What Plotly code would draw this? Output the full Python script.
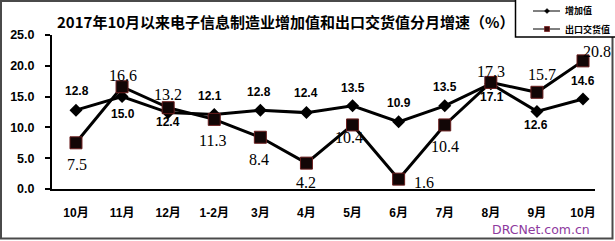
import plotly.graph_objects as go

# ---------------- data ----------------
months = ["10月", "11月", "12月", "1-2月", "3月", "4月", "5月", "6月", "7月", "8月", "9月", "10月"]
added_value = [12.8, 15.0, 12.4, 12.1, 12.8, 12.4, 13.5, 10.9, 13.5, 17.1, 12.6, 14.6]
export_value = [7.5, 16.6, 13.2, 11.3, 8.4, 4.2, 10.4, 1.6, 10.4, 17.3, 15.7, 20.8]
y_ticks = [0, 5, 10, 15, 20, 25]
series_names = ["增加值", "出口交货值"]
title_text = "2017年10月以来电子信息制造业增加值和出口交货值分月增速（%）"
watermark = "DRCNet.com.cn"

# ---------------- label offsets (pixels, style) ----------------
added_dx = [1, 1, 0, -4, -1, 0, 0, 0, 0, 1, -1, 0]
added_dy = [-19, 17, 9, -18, -18, -20, -18, -19, -19, 13, 14, -18]
export_dx = [1, 1, 0, -2, -1, 0, -4, 25, 0, 0, 5, 14]
export_dy = [22, -11, -13, 21, 22, 19, 13, 3, 22, -11, -18, -9]

W, H = 615, 241
L, R, T, B = 52, 595, 35, 189  # plot area in pixels


def px(xp):
    return (xp - L) / (R - L)


def py(yp):
    return (B - yp) / (B - T)


xs = list(range(len(months)))
SANS = "Liberation Sans, Noto Sans CJK SC, sans-serif"
CJK = "Noto Sans CJK SC, Liberation Sans, sans-serif"
SERIF = "Liberation Serif, DejaVu Serif, serif"

fig = go.Figure()
fig.add_trace(go.Scatter(
    x=xs, y=added_value, mode="lines+markers", name=series_names[0],
    line=dict(color="#000000", width=3),
    marker=dict(symbol="diamond", size=10, color="#000000"),
    showlegend=False, cliponaxis=False,
))
fig.add_trace(go.Scatter(
    x=xs, y=export_value, mode="lines+markers", name=series_names[1],
    line=dict(color="#000000", width=3),
    marker=dict(symbol="square", size=12, color="#120606",
                line=dict(color="#6a1e1e", width=1)),
    showlegend=False, cliponaxis=False,
))

annotations = []
for i, v in enumerate(added_value):
    annotations.append(dict(
        x=xs[i], y=v, xref="x", yref="y", text=f"{v:.1f}", showarrow=False,
        xshift=added_dx[i], yshift=-added_dy[i],
        font=dict(family=SANS, size=12, color="#000000", weight="bold"),
    ))
for i, v in enumerate(export_value):
    annotations.append(dict(
        x=xs[i], y=v, xref="x", yref="y", text=f"{v:.1f}", showarrow=False,
        xshift=export_dx[i], yshift=-export_dy[i],
        font=dict(family=SERIF, size=16, color="#000000"),
    ))

# title
annotations.append(dict(
    x=px(55), y=py(21), xref="paper", yref="paper", text=title_text,
    showarrow=False, xanchor="left", yanchor="middle",
    font=dict(family=CJK, size=15, color="#000000", weight="bold"),
))
# watermark
annotations.append(dict(
    x=px(541), y=py(229), xref="paper", yref="paper", text=watermark,
    showarrow=False, xanchor="center", yanchor="middle",
    font=dict(family="DejaVu Sans, sans-serif", size=12.5, color="#8e3a9e"),
))
# legend texts
annotations.append(dict(
    x=px(563), y=py(11), xref="paper", yref="paper", text=series_names[0],
    showarrow=False, xanchor="left", yanchor="middle",
    font=dict(family=CJK, size=9, color="#000000", weight="bold"),
))
annotations.append(dict(
    x=px(563), y=py(29), xref="paper", yref="paper", text=series_names[1],
    showarrow=False, xanchor="left", yanchor="middle",
    font=dict(family=CJK, size=9, color="#000000", weight="bold"),
))

shapes = []
# outer image border
shapes.append(dict(type="rect", xref="paper", yref="paper",
                   x0=px(1), x1=px(612.5), y0=py(238.5), y1=py(1),
                   line=dict(color="#4a4a4a", width=2), layer="above"))
# legend box
shapes.append(dict(type="rect", xref="paper", yref="paper",
                   x0=px(515.5), x1=px(616), y0=py(37), y1=py(-2),
                   line=dict(color="#000000", width=1.5), fillcolor="#ffffff", layer="above"))
# legend lines
for yy in (11, 29):
    shapes.append(dict(type="line", xref="paper", yref="paper",
                       x0=px(533), x1=px(560), y0=py(yy), y1=py(yy),
                       line=dict(color="#000000", width=1), layer="above"))
# legend diamond
cx, cy, r = 547, 11, 2.5
shapes.append(dict(type="path", xref="paper", yref="paper",
                   path=f"M {px(cx - r)} {py(cy)} L {px(cx)} {py(cy - r)} L {px(cx + r)} {py(cy)} L {px(cx)} {py(cy + r)} Z",
                   fillcolor="#000000", line=dict(color="#000000", width=0.5), layer="above"))
# legend square
cx, cy, r = 547, 29, 2.5
shapes.append(dict(type="rect", xref="paper", yref="paper",
                   x0=px(cx - r), x1=px(cx + r), y0=py(cy + r), y1=py(cy - r),
                   fillcolor="#3a0a0a", line=dict(color="#7a2222", width=0.8), layer="above"))

fig.update_layout(
    width=W, height=H, autosize=False,
    margin=dict(l=L, r=W - R, t=T, b=H - B, pad=0),
    paper_bgcolor="#ffffff", plot_bgcolor="#ffffff",
    showlegend=False,
    annotations=annotations, shapes=shapes,
)
fig.update_xaxes(
    range=[-0.52, 11.26], tickmode="array", tickvals=xs, ticktext=months,
    showgrid=False, zeroline=False, showline=True, linecolor="#000000", linewidth=2,
    ticks="", ticklabelstandoff=12, automargin=False,
    tickfont=dict(family=SANS, size=12, color="#000000", weight="bold"),
)
fig.update_yaxes(
    range=[0, 25], tickmode="array", tickvals=y_ticks,
    ticktext=[f"{t:.1f}" for t in y_ticks],
    showgrid=False, zeroline=False, showline=True, linecolor="#000000", linewidth=2,
    ticks="outside", ticklen=5, tickwidth=1.5, tickcolor="#000000",
    ticklabelstandoff=8, automargin=False,
    tickfont=dict(family=SANS, size=12.5, color="#000000", weight="bold"),
)

fig.write_html("out.html")
